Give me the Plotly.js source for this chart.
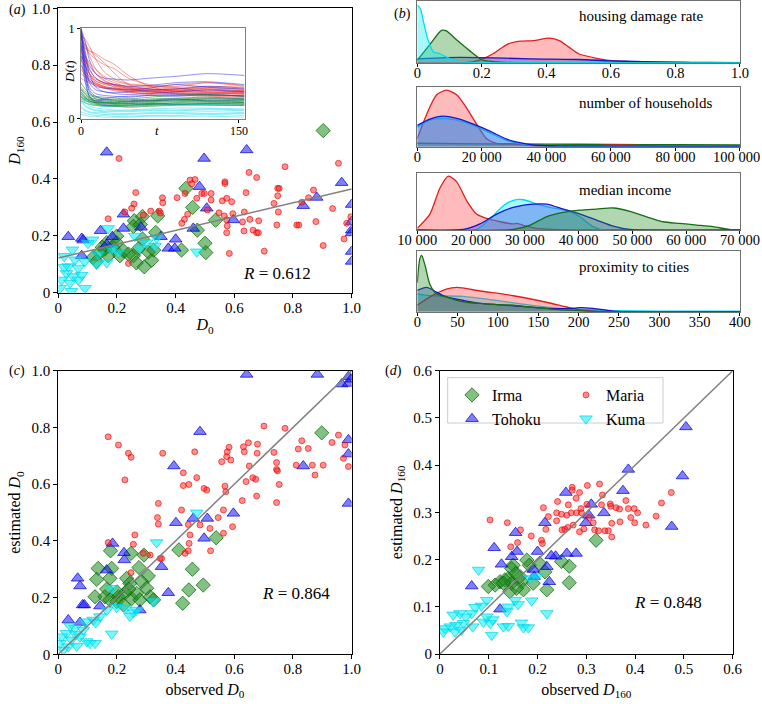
<!DOCTYPE html>
<html><head><meta charset="utf-8">
<script src="https://cdn.plot.ly/plotly-3.0.1.min.js"></script>
<style>body{margin:0;background:#fff}#chart{width:762px;height:704px}</style>
</head><body><div id="chart"></div>
<script>
// ---------- Panel (a): D0 vs D160 ----------
const aMariaX = [0.207,0.264,0.258,0.250,0.227,0.170,0.290,0.315,0.344,0.348,0.355,0.356,0.405,0.432,0.449,0.466,0.455,0.472,0.441,0.430,0.421,0.489,0.239,0.498,0.521,0.521,0.508,0.568,0.568,0.559,0.574,0.591,0.548,0.566,0.574,0.595,0.576,0.574,0.583,0.633,0.664,0.676,0.682,0.683,0.653,0.628,0.634,0.640,0.650,0.676,0.702,0.735,0.750,0.748,0.753,0.748,0.745,0.773,0.813,0.820,0.830,0.853,0.870,0.878,0.903,0.935,0.955,0.983,0.974,0.997];
const aMariaY = [0.472,0.352,0.312,0.297,0.284,0.260,0.273,0.287,0.287,0.280,0.334,0.316,0.334,0.349,0.396,0.398,0.383,0.332,0.276,0.258,0.244,0.349,0.103,0.349,0.349,0.326,0.291,0.390,0.384,0.323,0.332,0.320,0.281,0.270,0.256,0.278,0.235,0.211,0.138,0.217,0.220,0.211,0.211,0.253,0.258,0.249,0.284,0.352,0.423,0.405,0.146,0.314,0.284,0.367,0.367,0.341,0.238,0.443,0.238,0.238,0.318,0.334,0.361,0.250,0.166,0.296,0.455,0.244,0.189,0.267];
const aIrmaX = [0.903,0.435,0.458,0.500,0.503,0.536,0.474,0.420,0.339,0.332,0.287,0.259,0.256,0.287,0.273,0.256,0.266,0.293,0.318,0.307,0.222,0.199,0.199,0.165,0.159,0.142,0.119,0.170,0.210,0.239,0.280,0.325,0.150,0.185,0.130];
const aIrmaY = [0.570,0.367,0.300,0.174,0.141,0.255,0.220,0.150,0.270,0.212,0.268,0.253,0.233,0.189,0.154,0.130,0.105,0.091,0.114,0.143,0.147,0.199,0.176,0.176,0.153,0.141,0.124,0.130,0.130,0.136,0.240,0.150,0.160,0.160,0.110];
const aTohokuX = [0.165,0.497,0.642,0.481,0.966,0.881,0.835,0.597,0.506,0.460,0.350,0.400,0.375,0.397,0.282,0.222,0.222,0.144,0.034,0.080,0.085,0.184,0.080,1.0,1.0,1.0,1.0,1.0,1.0,0.165];
const aTohokuY = [0.494,0.472,0.502,0.373,0.387,0.335,0.306,0.256,0.297,0.226,0.197,0.188,0.156,0.156,0.230,0.276,0.226,0.218,0.197,0.191,0.185,0.197,0.130,0.310,0.250,0.220,0.210,0.145,0.110,0.170];
const aKumaX = [0.170,0.117,0.101,0.048,0.020,0.057,0.034,0.068,0.028,0.051,0.080,0.011,0.040,0.068,0.091,0.006,0.131,0.165,0.205,0.182,0.261,0.279,0.330,0.335,0.301,0.472,0.136,0.090,0.020,0.045];
const aKumaY = [0.226,0.186,0.174,0.151,0.128,0.116,0.092,0.087,0.068,0.057,0.062,0.045,0.034,0.045,0.016,0.016,0.100,0.106,0.141,0.153,0.199,0.158,0.164,0.193,0.176,0.144,0.134,0.110,0.090,0.005];
const aFitX = [0, 1];
const aFitY = [0.122, 0.365];
const aR = 'R = 0.612';

// ---------- Inset: D(t) trajectories ----------
const insetT = [0,4,8,14,22,32,45,65,90,120,155];
const insetMaria = [
 [0.95,0.85,0.70,0.55,0.45,0.40,0.35,0.33,0.32,0.30,0.31],
 [0.80,0.78,0.75,0.70,0.62,0.50,0.38,0.33,0.34,0.30,0.28],
 [0.70,0.60,0.50,0.42,0.38,0.36,0.33,0.30,0.28,0.29,0.27],
 [0.88,0.80,0.72,0.66,0.60,0.55,0.45,0.38,0.36,0.40,0.37],
 [0.60,0.50,0.42,0.38,0.35,0.32,0.30,0.27,0.26,0.25,0.24],
 [0.75,0.65,0.55,0.45,0.40,0.35,0.32,0.31,0.33,0.35,0.33],
 [0.90,0.82,0.76,0.72,0.66,0.60,0.48,0.36,0.30,0.28,0.30],
 [0.55,0.48,0.44,0.40,0.36,0.34,0.31,0.30,0.28,0.26,0.25],
 [0.65,0.58,0.50,0.44,0.40,0.38,0.36,0.35,0.38,0.40,0.36],
 [0.45,0.42,0.40,0.37,0.34,0.33,0.30,0.29,0.28,0.27,0.26],
 [0.98,0.70,0.50,0.40,0.35,0.34,0.33,0.31,0.30,0.32,0.29],
 [0.72,0.68,0.62,0.55,0.47,0.42,0.38,0.36,0.34,0.33,0.31],
 [0.85,0.60,0.45,0.38,0.34,0.31,0.29,0.28,0.30,0.31,0.30],
 [0.68,0.64,0.58,0.50,0.43,0.37,0.34,0.32,0.31,0.34,0.32],
 [0.92,0.88,0.80,0.66,0.52,0.44,0.39,0.37,0.35,0.36,0.35],
 [0.58,0.52,0.47,0.42,0.39,0.37,0.34,0.31,0.29,0.28,0.28],
 [0.78,0.70,0.60,0.50,0.42,0.38,0.35,0.33,0.31,0.29,0.29],
 [0.50,0.46,0.42,0.39,0.36,0.33,0.32,0.30,0.32,0.33,0.31]
];
const insetTohoku = [
 [1.00,0.60,0.40,0.32,0.30,0.28,0.27,0.28,0.30,0.32,0.30],
 [1.00,0.75,0.55,0.45,0.40,0.38,0.36,0.37,0.40,0.41,0.38],
 [0.98,0.50,0.30,0.22,0.20,0.19,0.20,0.21,0.22,0.20,0.21],
 [0.92,0.70,0.50,0.35,0.30,0.29,0.30,0.32,0.33,0.36,0.34],
 [0.85,0.45,0.25,0.18,0.16,0.15,0.15,0.17,0.16,0.15,0.15],
 [0.70,0.40,0.25,0.20,0.22,0.24,0.25,0.26,0.25,0.27,0.25],
 [1.00,0.85,0.65,0.50,0.45,0.44,0.43,0.45,0.47,0.50,0.48],
 [0.95,0.55,0.35,0.28,0.26,0.25,0.24,0.26,0.27,0.26,0.26],
 [0.80,0.50,0.32,0.25,0.22,0.21,0.22,0.20,0.21,0.22,0.22],
 [1.00,0.65,0.42,0.36,0.34,0.33,0.32,0.34,0.38,0.35,0.33]
];
const insetIrma = [
 [0.30,0.25,0.22,0.20,0.19,0.18,0.18,0.19,0.20,0.22,0.21],
 [0.25,0.22,0.20,0.18,0.17,0.16,0.15,0.16,0.17,0.18,0.18],
 [0.35,0.30,0.26,0.24,0.22,0.21,0.20,0.22,0.23,0.24,0.22],
 [0.20,0.18,0.16,0.15,0.14,0.14,0.13,0.14,0.15,0.16,0.15],
 [0.40,0.33,0.28,0.25,0.24,0.23,0.22,0.24,0.26,0.27,0.25],
 [0.28,0.24,0.20,0.17,0.15,0.14,0.14,0.15,0.16,0.17,0.16],
 [0.22,0.20,0.19,0.18,0.18,0.17,0.17,0.18,0.19,0.20,0.19],
 [0.32,0.27,0.23,0.20,0.18,0.17,0.17,0.16,0.18,0.19,0.18],
 [0.27,0.23,0.21,0.19,0.18,0.18,0.19,0.20,0.21,0.20,0.20],
 [0.24,0.21,0.18,0.16,0.15,0.15,0.16,0.17,0.16,0.17,0.17],
 [0.33,0.28,0.24,0.22,0.21,0.20,0.19,0.20,0.22,0.23,0.23]
];
const insetKuma = [
 [0.15,0.10,0.08,0.07,0.07,0.06,0.06,0.07,0.07,0.08,0.07],
 [0.25,0.18,0.14,0.12,0.11,0.10,0.10,0.11,0.12,0.12,0.11],
 [0.08,0.06,0.05,0.04,0.04,0.03,0.03,0.04,0.04,0.05,0.04],
 [0.20,0.15,0.12,0.10,0.09,0.09,0.09,0.10,0.10,0.11,0.10],
 [0.05,0.04,0.03,0.03,0.02,0.02,0.02,0.03,0.03,0.03,0.02],
 [0.30,0.22,0.17,0.15,0.14,0.14,0.15,0.15,0.16,0.16,0.15],
 [0.12,0.09,0.07,0.06,0.05,0.05,0.05,0.06,0.06,0.06,0.06],
 [0.18,0.14,0.11,0.09,0.08,0.08,0.08,0.09,0.09,0.10,0.09]
];

// ---------- Panel (b): densities (relative height) ----------
const hdrCyanX = [0,0.01,0.019,0.034,0.05,0.07,0.10,0.13,0.16,0.25,1.0];
const hdrCyanY = [0.96,0.90,0.69,0.37,0.18,0.15,0.07,0.02,0.005,0,0];
const hdrGreenX = [0,0.04,0.075,0.09,0.12,0.16,0.20,0.235,0.30,1.0];
const hdrGreenY = [0.04,0.31,0.54,0.53,0.39,0.21,0.05,0.02,0,0];
const hdrRedX = [0,0.14,0.19,0.235,0.28,0.32,0.36,0.41,0.44,0.47,0.50,0.56,0.61,0.70,0.85,1.0];
const hdrRedY = [0,0,0.04,0.15,0.31,0.36,0.37,0.41,0.37,0.26,0.15,0.07,0.03,0.01,0.003,0];
const hdrBlueX = [0,0.09,0.19,0.35,0.50,0.60,0.70,0.80,0.90,1.0];
const hdrBlueY = [0.065,0.086,0.086,0.065,0.054,0.03,0.02,0.01,0.005,0];

const hhRedX = [0,2900,6000,9100,12200,15300,18400,21500,24600,29800,35000,45000,55000,62000,70000,80000,100000];
const hhRedY = [0.14,0.56,0.90,0.98,0.90,0.67,0.39,0.14,0.06,0.045,0.02,0.01,0.02,0.03,0.02,0.005,0];
const hhBlueX = [0,3900,8000,12200,17400,22500,27700,31800,36000,45000,70000,100000];
const hhBlueY = [0.37,0.48,0.53,0.49,0.39,0.27,0.13,0.07,0.03,0.015,0.01,0.01];
const hhCyanX = [0,3900,8000,12200,17400,22500,27700,32800,40000,70000,100000];
const hhCyanY = [0.34,0.46,0.49,0.46,0.37,0.24,0.11,0.045,0.015,0.01,0.01];
const hhGreenX = [0,20000,40000,60000,80000,100000];
const hhGreenY = [0.06,0.05,0.045,0.04,0.035,0.03];

const incRedX = [10000,12350,14200,15760,17300,19200,21000,22900,25400,27850,28500,30300,32200,35300,40000,70000];
const incRedY = [0.03,0.29,0.76,0.98,0.88,0.53,0.29,0.21,0.15,0.11,0.12,0.07,0.03,0.01,0,0];
const incCyanX = [10000,21000,23500,26000,27850,29750,32200,34700,37800,40250,42700,44600,70000];
const incCyanY = [0,0.01,0.20,0.44,0.54,0.55,0.47,0.41,0.35,0.24,0.06,0,0];
const incBlueX = [10000,18550,21650,24750,27850,31550,34050,37150,40250,43350,46450,49500,70000];
const incBlueY = [0,0.01,0.11,0.29,0.41,0.47,0.47,0.38,0.29,0.18,0.07,0.01,0];
const incGreenX = [10000,27850,31000,34000,37150,40250,43350,46450,49550,52650,55700,58800,61950,65000,68000,70000];
const incGreenY = [0,0.01,0.09,0.24,0.32,0.36,0.38,0.40,0.34,0.24,0.15,0.12,0.09,0.06,0.01,0];

const proxGreenX = [0,3.3,5.4,9.5,15.7,24,36,49,61,78,98,119,140,160,181,202,230,400];
const proxGreenY = [0.49,0.90,0.95,0.79,0.46,0.30,0.25,0.19,0.16,0.14,0.12,0.11,0.08,0.055,0.03,0.016,0,0];
const proxBlueX = [0,11.6,24,36,57,78,119,160,190,202,218,243,260,400];
const proxBlueY = [0.36,0.41,0.33,0.25,0.19,0.14,0.10,0.055,0.055,0.07,0.055,0.01,0,0];
const proxRedX = [0,15.7,36,49,78,119,160,185,202,230,400];
const proxRedY = [0.11,0.25,0.38,0.41,0.35,0.27,0.16,0.08,0.03,0,0];
const proxCyanX = [0,15.7,57,98,140,181,243,300,400];
const proxCyanY = [0.30,0.27,0.26,0.19,0.11,0.05,0.02,0.01,0.01];

const bTitles = ['housing damage rate','number of households','median income','proximity to cities'];
const bTick1 = [0,0.2,0.4,0.6,0.8,1.0];
const bTick1Text = ['0','0.2','0.4','0.6','0.8','1.0'];
const bTick2 = [0,20000,40000,60000,80000,100000];
const bTick2Text = ['0','20 000','40 000','60 000','80 000',''];
const bTick2Last = '100 000';
const bTick3 = [10000,20000,30000,40000,50000,60000,70000];
const bTick3Text = ['10 000','20 000','30 000','40 000','50 000','60 000','70 000'];
const bTick4 = [0,50,100,150,200,250,300,350,400];

// ---------- Panel (c): observed vs estimated D0 ----------
const cMariaX = [0.170,0.205,0.239,0.248,0.227,0.356,0.341,0.338,0.341,0.347,0.261,0.256,0.248,0.170,0.290,0.313,0.420,0.426,0.426,0.445,0.465,0.472,0.443,0.449,0.446,0.443,0.483,0.497,0.506,0.517,0.519,0.545,0.557,0.563,0.568,0.571,0.574,0.576,0.582,0.588,0.563,0.594,0.627,0.631,0.634,0.640,0.648,0.651,0.663,0.673,0.676,0.679,0.678,0.701,0.735,0.744,0.744,0.747,0.744,0.753,0.773,0.811,0.818,0.830,0.852,0.866,0.875,0.903,0.933,0.955,0.972,0.977,0.989,0.352,0.432];
const cMariaY = [0.767,0.738,0.709,0.695,0.615,0.709,0.532,0.482,0.459,0.338,0.421,0.388,0.288,0.394,0.356,0.350,0.509,0.640,0.595,0.599,0.714,0.623,0.458,0.421,0.391,0.365,0.456,0.585,0.579,0.444,0.365,0.482,0.679,0.509,0.593,0.573,0.697,0.714,0.730,0.685,0.427,0.450,0.542,0.732,0.714,0.609,0.746,0.664,0.623,0.617,0.558,0.741,0.709,0.805,0.712,0.676,0.652,0.647,0.535,0.599,0.797,0.667,0.724,0.753,0.726,0.667,0.632,0.667,0.747,0.773,0.691,0.738,0.662,0.338,0.356];
const cIrmaX = [0.898,0.538,0.411,0.457,0.494,0.445,0.424,0.178,0.248,0.292,0.275,0.136,0.182,0.131,0.176,0.233,0.244,0.307,0.284,0.301,0.125,0.159,0.176,0.205,0.199,0.227,0.250,0.267,0.278,0.313,0.325,0.222,0.165,0.240,0.200];
const cIrmaY = [0.781,0.411,0.368,0.300,0.244,0.227,0.180,0.365,0.356,0.350,0.306,0.303,0.303,0.264,0.268,0.268,0.250,0.276,0.256,0.233,0.203,0.203,0.192,0.203,0.186,0.215,0.197,0.215,0.192,0.203,0.192,0.174,0.230,0.230,0.220];
const cTohokuX = [0.642,0.883,0.966,0.989,0.989,0.989,0.989,0.989,0.835,0.483,0.394,0.401,0.460,0.508,0.597,0.497,0.352,0.375,0.185,0.066,0.074,0.083,0.089,0.034,0.074,0.165,0.224,0.225,0.142,0.278,0.998];
const cTohokuY = [0.987,0.987,0.953,0.979,0.955,0.756,0.706,0.532,0.664,0.785,0.664,0.464,0.479,0.479,0.497,0.409,0.309,0.217,0.391,0.268,0.241,0.174,0.174,0.121,0.112,0.297,0.358,0.333,0.170,0.156,0.970];
const cKumaX = [0.335,0.472,0.182,0.165,0.182,0.231,0.256,0.267,0.324,0.119,0.128,0.108,0.125,0.006,0.011,0.028,0.045,0.057,0.074,0.085,0.097,0.034,0.063,0.017,0.091,0.142,0.199,0.244,0.040,0.060];
const cKumaY = [0.394,0.499,0.233,0.156,0.072,0.162,0.147,0.156,0.186,0.121,0.112,0.039,0.039,0.039,0.062,0.074,0.051,0.092,0.062,0.086,0.045,0.027,0.029,0.015,0.115,0.133,0.166,0.135,0.100,0.070];
const cDiagX = [0, 1];
const cDiagY = [0, 1];
const cR = 'R = 0.864';

// ---------- Panel (d): observed vs estimated D160 ----------
const dMariaX = [0.1025,0.138,0.145,0.165,0.159,0.187,0.208,0.210,0.212,0.217,0.222,0.241,0.239,0.239,0.249,0.250,0.256,0.262,0.263,0.271,0.271,0.269,0.273,0.279,0.280,0.286,0.286,0.289,0.290,0.295,0.302,0.306,0.314,0.317,0.325,0.327,0.331,0.333,0.338,0.345,0.349,0.350,0.352,0.352,0.361,0.368,0.369,0.381,0.386,0.391,0.398,0.399,0.405,0.422,0.443,0.454,0.474,0.301,0.260];
const dMariaY = [0.284,0.278,0.227,0.263,0.236,0.250,0.241,0.234,0.310,0.264,0.291,0.323,0.299,0.282,0.296,0.263,0.264,0.268,0.316,0.353,0.347,0.299,0.273,0.330,0.299,0.342,0.259,0.308,0.299,0.265,0.357,0.289,0.278,0.263,0.261,0.360,0.316,0.337,0.261,0.261,0.318,0.313,0.277,0.248,0.310,0.307,0.280,0.325,0.308,0.289,0.308,0.278,0.299,0.273,0.292,0.320,0.342,0.317,0.294];
const dIrmaX = [0.320,0.265,0.265,0.249,0.219,0.215,0.178,0.183,0.150,0.147,0.140,0.133,0.123,0.113,0.099,0.147,0.167,0.171,0.157,0.191,0.143,0.164,0.204,0.130,0.155];
const dIrmaY = [0.241,0.186,0.151,0.196,0.136,0.174,0.199,0.188,0.188,0.181,0.160,0.157,0.153,0.146,0.143,0.150,0.153,0.136,0.139,0.150,0.132,0.164,0.192,0.150,0.170];
const dTohokuX = [0.504,0.497,0.475,0.386,0.375,0.258,0.310,0.305,0.299,0.336,0.215,0.155,0.111,0.158,0.147,0.126,0.065,0.123,0.200,0.260,0.279,0.237,0.219,0.224,0.191,0.193,0.228];
const dTohokuY = [0.481,0.377,0.270,0.391,0.346,0.342,0.317,0.294,0.278,0.299,0.278,0.257,0.225,0.217,0.206,0.190,0.144,0.095,0.217,0.213,0.213,0.207,0.185,0.153,0.179,0.164,0.208];
const dKumaX = [0.079,0.198,0.188,0.219,0.154,0.140,0.137,0.130,0.140,0.106,0.167,0.171,0.181,0.096,0.085,0.072,0.065,0.053,0.041,0.027,0.048,0.033,0.021,0.010,0.007,0.031,0.044,0.067,0.089,0.103,0.108,0.096,0.160,0.185];
const dKumaY = [0.178,0.164,0.113,0.086,0.114,0.100,0.090,0.058,0.059,0.040,0.066,0.056,0.056,0.114,0.102,0.099,0.086,0.079,0.086,0.083,0.065,0.061,0.058,0.054,0.047,0.047,0.051,0.058,0.068,0.065,0.073,0.079,0.105,0.160];
const dDiagX = [0, 0.6];
const dDiagY = [0, 0.6];
const dR = 'R = 0.848';

// ---------- styles ----------
const FONT = 'Liberation Serif, Times New Roman, serif';
const ST = {
  Irma:   {symbol:'diamond', size:11, color:'rgba(30,140,30,0.55)', line:{color:'rgba(0,100,0,0.7)', width:1}},
  Maria:  {symbol:'circle', size:6, color:'rgba(255,30,30,0.5)', line:{color:'rgba(230,0,0,0.6)', width:1}},
  Tohoku: {symbol:'triangle-up', size:11, color:'rgba(20,20,255,0.55)', line:{color:'rgba(0,0,200,0.7)', width:1}},
  Kuma:   {symbol:'triangle-down', size:11, color:'rgba(0,240,250,0.55)', line:{color:'rgba(0,210,230,0.7)', width:1}}
};
const LEG = {Irma:'legend', Tohoku:'legend', Maria:'legend2', Kuma:'legend2'};

function sc(name, x, y, xa, ya, legend) {
  return {type:'scatter', mode:'markers', x:x, y:y, xaxis:xa, yaxis:ya, name:name,
    marker:ST[name], showlegend:!!legend, legend:LEG[name], hoverinfo:'skip'};
}
function ln(x, y, xa, ya) {
  return {type:'scatter', mode:'lines', x:x, y:y, xaxis:xa, yaxis:ya, showlegend:false,
    line:{color:'#808080', width:1.5}, hoverinfo:'skip'};
}

const traces = [];
const insetCol = {Maria:'rgba(240,40,40,0.45)', Tohoku:'rgba(40,40,230,0.5)', Irma:'rgba(0,130,40,0.55)', Kuma:'rgba(0,215,230,0.45)'};
[['Maria',insetMaria],['Tohoku',insetTohoku],['Irma',insetIrma],['Kuma',insetKuma]].forEach(([n, arr]) => {
  arr.forEach(yv => traces.push({type:'scatter', mode:'lines', x:insetT, y:yv, xaxis:'x2', yaxis:'y2',
    showlegend:false, hoverinfo:'skip', line:{color:insetCol[n], width:1, shape:'spline', smoothing:0.8}}));
});

traces.push(sc('Irma', aIrmaX, aIrmaY, 'x', 'y'));
traces.push(sc('Tohoku', aTohokuX, aTohokuY, 'x', 'y'));
traces.push(sc('Maria', aMariaX, aMariaY, 'x', 'y'));
traces.push(sc('Kuma', aKumaX, aKumaY, 'x', 'y'));
traces.push(ln(aFitX, aFitY, 'x', 'y'));

const bCol = {
  red:['rgb(225,30,30)','rgba(255,60,60,0.35)'],
  green:['rgb(20,110,20)','rgba(30,140,30,0.35)'],
  blue:['rgb(20,20,210)','rgba(60,60,230,0.35)'],
  cyan:['rgb(0,220,235)','rgba(0,235,245,0.35)']
};
function kd(x, y, c, xa, ya) {
  return {type:'scatter', mode:'lines', x:x, y:y, xaxis:xa, yaxis:ya, fill:'tozeroy',
    fillcolor:bCol[c][1], line:{color:bCol[c][0], width:1.3, shape:'spline', smoothing:0.7},
    showlegend:false, hoverinfo:'skip'};
}
traces.push(kd(hdrRedX, hdrRedY, 'red', 'x3', 'y3'));
traces.push(kd(hdrBlueX, hdrBlueY, 'blue', 'x3', 'y3'));
traces.push(kd(hdrGreenX, hdrGreenY, 'green', 'x3', 'y3'));
traces.push(kd(hdrCyanX, hdrCyanY, 'cyan', 'x3', 'y3'));

traces.push(kd(hhGreenX, hhGreenY, 'green', 'x4', 'y4'));
traces.push(kd(hhRedX, hhRedY, 'red', 'x4', 'y4'));
traces.push(kd(hhCyanX, hhCyanY, 'cyan', 'x4', 'y4'));
traces.push(kd(hhBlueX, hhBlueY, 'blue', 'x4', 'y4'));

traces.push(kd(incRedX, incRedY, 'red', 'x5', 'y5'));
traces.push(kd(incCyanX, incCyanY, 'cyan', 'x5', 'y5'));
traces.push(kd(incBlueX, incBlueY, 'blue', 'x5', 'y5'));
traces.push(kd(incGreenX, incGreenY, 'green', 'x5', 'y5'));

traces.push(kd(proxCyanX, proxCyanY, 'cyan', 'x6', 'y6'));
traces.push(kd(proxRedX, proxRedY, 'red', 'x6', 'y6'));
traces.push(kd(proxBlueX, proxBlueY, 'blue', 'x6', 'y6'));
traces.push(kd(proxGreenX, proxGreenY, 'green', 'x6', 'y6'));

traces.push(sc('Irma', cIrmaX, cIrmaY, 'x7', 'y7'));
traces.push(sc('Tohoku', cTohokuX, cTohokuY, 'x7', 'y7'));
traces.push(sc('Maria', cMariaX, cMariaY, 'x7', 'y7'));
traces.push(sc('Kuma', cKumaX, cKumaY, 'x7', 'y7'));
traces.push(ln(cDiagX, cDiagY, 'x7', 'y7'));

traces.push(sc('Irma', dIrmaX, dIrmaY, 'x8', 'y8', true));
traces.push(sc('Tohoku', dTohokuX, dTohokuY, 'x8', 'y8', true));
traces.push(sc('Maria', dMariaX, dMariaY, 'x8', 'y8', true));
traces.push(sc('Kuma', dKumaX, dKumaY, 'x8', 'y8', true));
traces.push(ln(dDiagX, dDiagY, 'x8', 'y8'));

// ---------- axes ----------
function ax(domain, range, anchor, extra) {
  return Object.assign({domain:domain, range:range, anchor:anchor, showgrid:false, zeroline:false,
    showline:true, mirror:true, linecolor:'#000', linewidth:1, ticks:'outside', ticklen:4,
    tickcolor:'#000', tickfont:{family:FONT, size:15, color:'#000'}, fixedrange:true, automargin:false,
    ticklabeloverflow:'allow'}, extra||{});
}
const t01 = {tickmode:'array', tickvals:bTick1, ticktext:bTick1Text};
const tD = {tickmode:'array', tickvals:[0,0.1,0.2,0.3,0.4,0.5,0.6], ticktext:['0','0.1','0.2','0.3','0.4','0.5','0.6']};
const titleFont = {family:FONT, size:16, color:'#000'};
const xUp = {ticklabelstandoff:-3};
const bTickFont = {family:FONT, size:14.5, color:'#000'};

const bx = [0.5476, 0.9711];
const bDom = [[0.9109,0.9986],[0.7916,0.876],[0.6733,0.7538],[0.5572,0.6439]];
function bxa(dom, range, anchor, tv, tt) {
  return ax(dom, range, anchor, {tickmode:'array', tickvals:tv, ticktext:tt, linecolor:'#707070',
    ticklen:3, ticklabelstandoff:-6, tickfont:bTickFont});
}
function bya(dom, anchor) {
  return ax(dom, [0,1.03], anchor, {showticklabels:false, ticks:'', linecolor:'#707070'});
}
const legBase = {xanchor:'left', yanchor:'top', orientation:'v', bgcolor:'rgba(0,0,0,0)', borderwidth:0,
  font:{family:FONT, size:16, color:'#000'}, tracegroupgap:0, itemwidth:30};

const layout = {
  width:762, height:704, margin:{l:0,r:0,t:0,b:0}, paper_bgcolor:'#fff', plot_bgcolor:'#fff',
  font:{family:FONT, size:15, color:'#000'},
  xaxis: ax([0.0765,0.4615],[0,1],'y', Object.assign({title:{text:'<i>D</i><sub>0</sub>', font:titleFont, standoff:4}}, t01, xUp)),
  yaxis: ax([0.5842,0.9882],[0,1],'x', Object.assign({title:{text:'<i>D</i><sub>160</sub>', font:titleFont, standoff:6}}, t01)),
  xaxis2: ax([0.1063,0.3215],[0,155.7],'y2', {tickmode:'array', tickvals:[0,150], ticktext:['0','150'], linecolor:'#808080', ticklen:3,
    ticklabelstandoff:-2, tickfont:{family:FONT, size:12, color:'#000'}}),
  yaxis2: ax([0.8310,0.9598],[0,1],'x2', {tickmode:'array', tickvals:[0,1], ticktext:['0','1'], linecolor:'#808080', ticklen:3,
    tickfont:{family:FONT, size:12, color:'#000'}}),
  xaxis3: bxa(bx,[0,1],'y3', bTick1, bTick1Text),
  yaxis3: bya(bDom[0],'x3'),
  xaxis4: bxa(bx,[0,100000],'y4', bTick2, bTick2Text),
  yaxis4: bya(bDom[1],'x4'),
  xaxis5: bxa(bx,[10000,70000],'y5', bTick3, bTick3Text),
  yaxis5: bya(bDom[2],'x5'),
  xaxis6: bxa(bx,[0,400],'y6', bTick4, bTick4.map(String)),
  yaxis6: bya(bDom[3],'x6'),
  xaxis7: ax([0.0765,0.4615],[0,1],'y7', Object.assign({title:{text:'observed <i>D</i><sub>0</sub>', font:titleFont, standoff:7}}, t01, xUp)),
  yaxis7: ax([0.0706,0.4734],[0,1],'x7', Object.assign({title:{text:'estimated <i>D</i><sub>0</sub>', font:titleFont, standoff:6}}, t01)),
  xaxis8: ax([0.5774,0.9616],[0,0.6],'y8', Object.assign({title:{text:'observed <i>D</i><sub>160</sub>', font:titleFont, standoff:7}}, tD, xUp)),
  yaxis8: ax([0.0710,0.4734],[0,0.6],'x8', Object.assign({title:{text:'estimated <i>D</i><sub>160</sub>', font:titleFont, standoff:6}}, tD)),
  legend: Object.assign({x:452/762, y:1-378/704}, legBase),
  legend2: Object.assign({x:566/762, y:1-378/704}, legBase),
  shapes: [
    {type:'rect', xref:'paper', yref:'paper', x0:447.7/762, x1:663/762, y0:1-423/704, y1:1-377.7/704,
     line:{color:'#cccccc', width:1}, fillcolor:'rgba(255,255,255,0.8)', layer:'below'}
  ],
  annotations: [
    {xref:'paper', yref:'paper', x:0.009, y:0.986, text:'(<i>a</i>)', showarrow:false, xanchor:'left', yanchor:'middle', font:{family:FONT, size:14}},
    {xref:'paper', yref:'paper', x:0.515, y:0.980, text:'(<i>b</i>)', showarrow:false, xanchor:'left', yanchor:'middle', font:{family:FONT, size:14}},
    {xref:'paper', yref:'paper', x:0.009, y:0.473, text:'(<i>c</i>)', showarrow:false, xanchor:'left', yanchor:'middle', font:{family:FONT, size:14}},
    {xref:'paper', yref:'paper', x:0.502, y:0.473, text:'(<i>d</i>)', showarrow:false, xanchor:'left', yanchor:'middle', font:{family:FONT, size:14}},
    {xref:'x', yref:'y', x:0.747, y:0.066, text:aR.replace('R','<i>R</i>'), showarrow:false, font:{family:FONT, size:17}},
    {xref:'x7', yref:'y7', x:0.81, y:0.216, text:cR.replace('R','<i>R</i>'), showarrow:false, font:{family:FONT, size:17}},
    {xref:'x8', yref:'y8', x:0.467, y:0.109, text:dR.replace('R','<i>R</i>'), showarrow:false, font:{family:FONT, size:17}},
    {xref:'paper', yref:'paper', x:577/762, y:1-16/704, text:bTitles[0], showarrow:false, xanchor:'left', yanchor:'middle', font:{family:FONT, size:15}},
    {xref:'paper', yref:'paper', x:577/762, y:1-103/704, text:bTitles[1], showarrow:false, xanchor:'left', yanchor:'middle', font:{family:FONT, size:15}},
    {xref:'paper', yref:'paper', x:577/762, y:1-190/704, text:bTitles[2], showarrow:false, xanchor:'left', yanchor:'middle', font:{family:FONT, size:15}},
    {xref:'paper', yref:'paper', x:577/762, y:1-267/704, text:bTitles[3], showarrow:false, xanchor:'left', yanchor:'middle', font:{family:FONT, size:15}},
    {xref:'paper', yref:'paper', x:157/762, y:1-130/704, text:'<i>t</i>', showarrow:false, xanchor:'center', yanchor:'middle', font:{family:FONT, size:13}},
    {xref:'paper', yref:'paper', x:69/762, y:1-72/704, text:'<i>D</i>(<i>t</i>)', textangle:-90, showarrow:false, xanchor:'center', yanchor:'middle', font:{family:FONT, size:13}},
    // last tick label of the households axis, kept inside the page edge
    {xref:'paper', yref:'paper', x:761/762, y:1-157/704, text:bTick2Last, showarrow:false, xanchor:'right', yanchor:'middle',
     xshift:0, borderpad:0, font:bTickFont}
  ]
};

Plotly.newPlot('chart', traces, layout, {displayModeBar:false, staticPlot:true});
</script></body></html>
